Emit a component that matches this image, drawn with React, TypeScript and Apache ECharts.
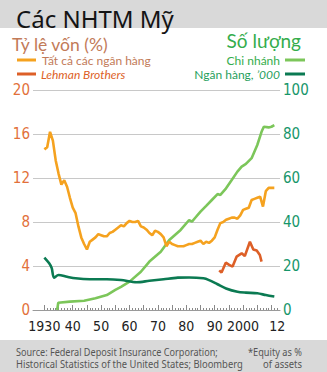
import React, { useEffect, useRef } from "react";
import * as echarts from "echarts";

// Capital ratio, all commercial banks (%)
const allBanksYears = [1930, 1931, 1932, 1933, 1934, 1935, 1936, 1937, 1938, 1939, 1940, 1941, 1942, 1943, 1944, 1945, 1946, 1947, 1948, 1949, 1950, 1951, 1952, 1953, 1954, 1955, 1956, 1957, 1958, 1959, 1960, 1961, 1962, 1963, 1964, 1965, 1966, 1967, 1968, 1969, 1970, 1971, 1972, 1973, 1974, 1975, 1976, 1977, 1978, 1979, 1980, 1981, 1982, 1983, 1984, 1985, 1986, 1987, 1988, 1989, 1990, 1991, 1992, 1993, 1994, 1995, 1996, 1997, 1998, 1999, 2000, 2001, 2002, 2003, 2004, 2005, 2006, 2007, 2008, 2009, 2010, 2011];
const allBanksRatio = [14.6, 14.8, 16.2, 15.4, 13.6, 12.4, 11.4, 11.8, 11.2, 10.2, 9.3, 8.8, 7.6, 6.6, 6.0, 5.5, 6.2, 6.4, 6.6, 6.9, 6.8, 6.7, 6.7, 7.0, 7.1, 7.3, 7.5, 7.7, 7.6, 7.9, 8.1, 8.0, 8.0, 8.1, 7.6, 7.5, 7.3, 7.0, 6.8, 7.2, 7.1, 6.9, 6.6, 5.8, 6.2, 6.0, 5.9, 5.8, 5.8, 5.8, 5.9, 6.0, 6.0, 6.1, 6.2, 6.3, 6.0, 6.2, 6.1, 6.3, 6.6, 7.3, 7.9, 8.0, 8.2, 8.3, 8.4, 8.4, 8.3, 8.6, 9.1, 9.2, 9.3, 10.0, 10.1, 10.2, 10.3, 9.4, 10.8, 11.1, 11.1, 11.1];

// Lehman Brothers capital ratio (%)
const lehmanYears = [1991.6, 1992.4, 1993.9, 1995.1, 1996.3, 1997.7, 1999.5, 2000.6, 2002.4, 2003.6, 2004.8, 2005.9, 2006.5];
const lehmanRatio = [3.6, 3.4, 4.3, 4.1, 3.95, 4.85, 5.15, 4.9, 6.2, 5.5, 5.4, 5.0, 4.4];

// Number of branches ('000)
const branchYears = [1934.5, 1934.9, 1939, 1944, 1948, 1952, 1955, 1957, 1960, 1964, 1967, 1971, 1974, 1978, 1981, 1982, 1983, 1985, 1987, 1989, 1991, 1992, 1994, 1996, 1998, 1999.5, 2001, 2003, 2005, 2006.5, 2007.3, 2009, 2010, 2011];
const branchCount = [0, 3.3, 3.8, 4.2, 5.3, 6.8, 9.1, 10.5, 12.9, 17.4, 22, 26.5, 31.8, 36.4, 40.9, 40.2, 41.7, 44.7, 47.3, 50, 52.7, 52.3, 55.3, 59.1, 62.9, 65.2, 66.4, 69, 75, 81, 83.3, 83, 83.3, 84];

// Number of banks ('000)
const bankYears = [1930, 1931.7, 1932.6, 1933.4, 1935, 1938, 1941, 1946, 1952, 1957, 1962.5, 1967, 1972, 1977, 1981, 1986, 1988, 1991, 1994, 1998, 2001, 2005, 2008, 2011];
const bankCount = [23.8, 21.2, 19, 14.7, 15.9, 15.1, 14.4, 14, 14, 13.6, 12.6, 13.3, 14, 14.7, 14.8, 14.4, 13.6, 11.7, 9.8, 8.3, 7.9, 7.6, 6.8, 6.1];

// Axis
const xLabelYears = [1930, 1940, 1950, 1960, 1970, 1980, 1990, 2000, 2012];
const xLabelTexts = ["1930", "40", "50", "60", "70", "80", "90", "2000", "12"];
const yearTicks = Array.from({ length: 83 }, (_, i) => 1930 + i);
const fiveYearTicks = Array.from({ length: 17 }, (_, i) => 1930 + i * 5);

const C = {
  orange: "#f5a21f",
  lehman: "#dd5f27",
  lightGreen: "#7cc65a",
  darkGreen: "#0b7a52",
  leftLabel: "#e2703a",
  rightLabel: "#16966a",
  brown: "#c27a58",
  green: "#35ad4c",
  green2: "#1f9e5c",
};

const NARROW = "'Liberation Sans Narrow', 'DejaVu Sans Condensed', sans-serif";

function zip(xs: number[], ys: number[]) {
  return xs.map((x, i) => [x, ys[i]]);
}

let measureCtx: CanvasRenderingContext2D | null = null;
function fitScale(text: string, font: string, target: number) {
  if (!measureCtx) measureCtx = document.createElement("canvas").getContext("2d");
  if (!measureCtx) return 1;
  measureCtx.font = font;
  const w = measureCtx.measureText(text).width;
  return w > 0 ? target / w : 1;
}

export default function App() {
  const ref = useRef<HTMLDivElement>(null);
  useEffect(() => {
    if (!ref.current) return;
    const chart = echarts.init(ref.current, null, { renderer: "svg" });
    const lbl = (t: string, x: number, y: number, style: any) => ({
      type: "text",
      x,
      y,
      style: { text: t, verticalAlign: "middle", ...style },
    });
    const FOOT = "10.5px 'Noto Sans'";
    const fit = (t: string, x: number, y: number, w: number, align: string) => ({
      type: "text",
      x,
      y,
      scaleX: fitScale(t, FOOT, w),
      style: { text: t, font: FOOT, fill: "#555", align, verticalAlign: "middle" },
    });
    chart.setOption({
      animation: false,
      backgroundColor: "#ffffff",
      grid: { left: 33, right: 47, top: 90, bottom: 62, containLabel: false },
      xAxis: [
        {
          type: "value",
          min: 1926,
          max: 2013,
          axisLine: { show: true, lineStyle: { color: "#9a9a9a", width: 1 } },
          axisTick: {
            show: true,
            inside: true,
            length: 2,
            customValues: yearTicks,
            lineStyle: { color: "#8a8a8a", width: 1 },
          },
          axisLabel: {
            show: true,
            customValues: xLabelYears,
            formatter: (v: number) => xLabelTexts[xLabelYears.indexOf(v)] ?? "",
            color: "#222",
            fontFamily: NARROW,
            fontSize: 14,
            margin: 9,
          },
          splitLine: { show: false },
        },
        {
          type: "value",
          min: 1926,
          max: 2013,
          position: "bottom",
          axisLine: { show: false },
          axisTick: {
            show: true,
            inside: true,
            length: 5,
            customValues: fiveYearTicks,
            lineStyle: { color: "#8a8a8a", width: 1 },
          },
          axisLabel: { show: false },
          splitLine: { show: false },
        },
      ],
      yAxis: [
        {
          type: "value",
          min: 0,
          max: 20,
          interval: 4,
          position: "left",
          axisLine: { show: false },
          axisTick: { show: false },
          axisLabel: { color: C.leftLabel, fontFamily: NARROW, fontSize: 15, margin: 3 },
          splitLine: { show: true, lineStyle: { color: "#c8c8c8", width: 1 } },
        },
        {
          type: "value",
          min: 0,
          max: 100,
          interval: 20,
          position: "right",
          axisLine: { show: false },
          axisTick: { show: false },
          axisLabel: { color: C.rightLabel, fontFamily: NARROW, fontSize: 15, margin: 3 },
          splitLine: { show: false },
        },
      ],
      series: [
        {
          type: "line",
          yAxisIndex: 1,
          data: zip(branchYears, branchCount),
          showSymbol: false,
          lineStyle: { color: C.lightGreen, width: 2.6 },
          z: 2,
        },
        {
          type: "line",
          yAxisIndex: 1,
          data: zip(bankYears, bankCount),
          showSymbol: false,
          smooth: 0.3,
          lineStyle: { color: C.darkGreen, width: 2.6 },
          z: 2,
        },
        {
          type: "line",
          yAxisIndex: 0,
          data: zip(allBanksYears, allBanksRatio),
          showSymbol: false,
          lineStyle: { color: C.orange, width: 2.6 },
          z: 3,
        },
        {
          type: "line",
          yAxisIndex: 0,
          data: zip(lehmanYears, lehmanRatio),
          showSymbol: false,
          lineStyle: { color: C.lehman, width: 2.6 },
          z: 3,
        },
      ],
      graphic: [
        { type: "rect", shape: { x: 0, y: 0, width: 327, height: 28 }, style: { fill: "#d9d9d9" }, z: -1 },
        { type: "rect", shape: { x: 0, y: 340, width: 327, height: 32 }, style: { fill: "#d9d9d9" }, z: -1 },
        lbl("Các NHTM Mỹ", 16, 18, { font: "24px 'Noto Sans'", fill: "#141414" }),
        lbl("Tỷ lệ vốn (%)", 12, 44, { font: "17.5px Lato", fill: C.brown }),
        lbl("Số lượng", 301, 40, { font: "19px Lato", fill: C.green, align: "right" }),
        { type: "line", shape: { x1: 17, y1: 60, x2: 36, y2: 60 }, style: { stroke: C.orange, lineWidth: 3 } },
        { type: "line", shape: { x1: 17, y1: 74, x2: 36, y2: 74 }, style: { stroke: C.lehman, lineWidth: 3 } },
        lbl("Tất cả các ngân hàng", 42, 60.5, { font: "12px Lato", fill: C.brown }),
        lbl("Lehman Brothers", 41, 74, { font: "italic 12px Lato", fill: C.lehman }),
        { type: "line", shape: { x1: 285, y1: 60, x2: 305, y2: 60 }, style: { stroke: C.lightGreen, lineWidth: 3 } },
        { type: "line", shape: { x1: 285, y1: 74, x2: 305, y2: 74 }, style: { stroke: C.darkGreen, lineWidth: 3 } },
        lbl("Chi nhánh", 280, 60.5, { font: "12px Lato", fill: C.green, align: "right" }),
        {
          type: "text",
          x: 280,
          y: 74,
          style: {
            text: "{a|Ngân hàng, }{b|’000}",
            align: "right",
            verticalAlign: "middle",
            rich: {
              a: { font: "12px Lato", fill: C.green2 },
              b: { font: "italic 12px Lato", fill: C.green2 },
            },
          },
        },
        fit("Source: Federal Deposit Insurance Corporation;", 16, 352, 202, "left"),
        fit("Historical Statistics of the United States; Bloomberg", 16, 364, 227, "left"),
        fit("*Equity as %", 302, 352, 54, "right"),
        fit("of assets", 302, 364, 39, "right"),
      ],
    });
    return () => chart.dispose();
  }, []);
  return <div ref={ref} style={{ width: 327, height: 372, position: "absolute", left: 0, top: 0 }} />;
}
